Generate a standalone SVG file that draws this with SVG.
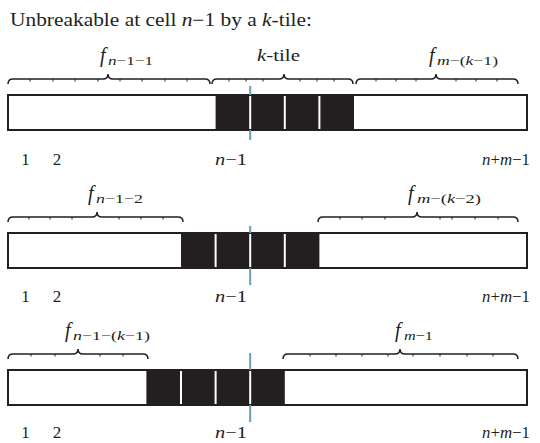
<svg xmlns="http://www.w3.org/2000/svg" width="540" height="443" viewBox="0 0 540 443" font-family="'Liberation Serif', 'DejaVu Serif', serif">
<style>
text{font-family:'Liberation Serif','DejaVu Serif',serif;fill:#231f20}
.t{font-size:18px}
.lab{font-size:17px}
.f{font-size:20px;font-style:italic}
.sub{font-size:13.5px}
.i{font-style:italic}
.bar{fill:#fff;stroke:#231f20;stroke-width:2}
.blk{fill:#231f20}
.div{stroke:#fff;stroke-width:2}
.blue{stroke:#6a9cb3;stroke-width:2}
.brace{fill:none;stroke:#231f20;stroke-width:1.5}
.tick{stroke:#231f20;stroke-width:1}
</style>
<rect width="540" height="443" fill="#fff"/>
<text class="t" x="10" y="26" textLength="302" lengthAdjust="spacingAndGlyphs">Unbreakable at cell <tspan class="i">n</tspan>−1 by a <tspan class="i">k</tspan>-tile:</text>

<g id="row1">
  <rect class="bar" x="8" y="95" width="519" height="35"/>
  <rect class="blk" x="215.6" y="94" width="138.4" height="37"/>
  <line class="div" x1="284.8" y1="96" x2="284.8" y2="129"/>
  <line class="div" x1="319.4" y1="96" x2="319.4" y2="129"/>
  <line class="div" x1="250.2" y1="96" x2="250.2" y2="129"/>
  <line class="blue" x1="250.2" y1="86" x2="250.2" y2="95"/>
  <line class="blue" x1="250.2" y1="130" x2="250.2" y2="140"/>
</g>
<g id="row2">
  <rect class="bar" x="8" y="233" width="519" height="35"/>
  <rect class="blk" x="181" y="232" width="138.4" height="37"/>
  <line class="div" x1="215.6" y1="234" x2="215.6" y2="267"/>
  <line class="div" x1="284.8" y1="234" x2="284.8" y2="267"/>
  <line class="div" x1="250.2" y1="234" x2="250.2" y2="267"/>
  <line class="blue" x1="250.2" y1="226" x2="250.2" y2="233"/>
  <line class="blue" x1="250.2" y1="268" x2="250.2" y2="285"/>
</g>
<g id="row3">
  <rect class="bar" x="8" y="370" width="519" height="35"/>
  <rect class="blk" x="146.4" y="369" width="138.4" height="37"/>
  <line class="div" x1="181" y1="371" x2="181" y2="404"/>
  <line class="div" x1="215.6" y1="371" x2="215.6" y2="404"/>
  <line class="div" x1="250.2" y1="371" x2="250.2" y2="404"/>
  <line class="blue" x1="250.2" y1="353" x2="250.2" y2="370"/>
  <line class="blue" x1="250.2" y1="405" x2="250.2" y2="422"/>
</g>

<g id="braces">
  <path class="brace" d="M8 84 Q8 79 13 79 H103 Q108 79 108 74 Q108 79 113 79 H205 Q210 79 210 84"/>
  <path class="brace" d="M212 84 Q212 79 217 79 H279 Q284 79 284 74 Q284 79 289 79 H348 Q353 79 353 84"/>
  <path class="brace" d="M356 84 Q356 79 361 79 H431 Q436 79 436 74 Q436 79 441 79 H513 Q518 79 518 84"/>
  <path class="brace" d="M8 222 Q8 217 13 217 H92 Q97 217 97 212 Q97 217 102 217 H178 Q183 217 183 222"/>
  <path class="brace" d="M318 222 Q318 217 323 217 H412 Q417 217 417 212 Q417 217 422 217 H513 Q518 217 518 222"/>
  <path class="brace" d="M8 359 Q8 354 13 354 H73 Q78 354 78 349 Q78 354 83 354 H143 Q148 354 148 359"/>
  <path class="brace" d="M283 359 Q283 354 288 354 H395 Q400 354 400 349 Q400 354 405 354 H513 Q518 354 518 359"/>
  <path class="tick" d="M30 79v2.5M53 79v2.5M75 79v2.5M98 79v2.5M120 79v2.5M142 79v2.5M165 79v2.5M187 79v2.5
    M229 79v2.5M246 79v2.5M263 79v2.5M300 79v2.5M317 79v2.5M334 79v2.5
    M376 79v2.5M396 79v2.5M416 79v2.5M456 79v2.5M476 79v2.5M497 79v2.5
    M29 217v2.5M50 217v2.5M72 217v2.5M119 217v2.5M141 217v2.5M163 217v2.5
    M340 217v2.5M362 217v2.5M385 217v2.5M440 217v2.5M452 217v2.5M475 217v2.5M498 217v2.5
    M31 354v2.5M55 354v2.5M100 354v2.5M123 354v2.5
    M310 354v2.5M336 354v2.5M362 354v2.5M388 354v2.5M413 354v2.5M440 354v2.5M467 354v2.5M493 354v2.5"/>
</g>

<g id="labels">
  <text class="f" x="100" y="62">f</text>
  <text class="sub" x="108" y="65" textLength="45" lengthAdjust="spacingAndGlyphs"><tspan class="i">n</tspan>−1−1</text>
  <text class="lab" x="257" y="61" textLength="43" lengthAdjust="spacingAndGlyphs"><tspan class="i">k</tspan>-tile</text>
  <text class="f" x="429" y="62">f</text>
  <text class="sub" x="437" y="65" textLength="61" lengthAdjust="spacingAndGlyphs"><tspan class="i">m</tspan>−(<tspan class="i">k</tspan>−1)</text>

  <text class="f" x="88" y="200">f</text>
  <text class="sub" x="96" y="203" textLength="47" lengthAdjust="spacingAndGlyphs"><tspan class="i">n</tspan>−1−2</text>
  <text class="f" x="408" y="200">f</text>
  <text class="sub" x="417" y="203" textLength="64" lengthAdjust="spacingAndGlyphs"><tspan class="i">m</tspan>−(<tspan class="i">k</tspan>−2)</text>

  <text class="f" x="65" y="337">f</text>
  <text class="sub" x="73" y="340" textLength="77" lengthAdjust="spacingAndGlyphs"><tspan class="i">n</tspan>−1−(<tspan class="i">k</tspan>−1)</text>
  <text class="f" x="395" y="337">f</text>
  <text class="sub" x="404" y="340" textLength="29" lengthAdjust="spacingAndGlyphs"><tspan class="i">m</tspan>−1</text>

  <text class="lab" x="25.5" y="165" text-anchor="middle">1</text>
  <text class="lab" x="57" y="165" text-anchor="middle">2</text>
  <text class="lab" x="215" y="165" textLength="32" lengthAdjust="spacingAndGlyphs"><tspan class="i">n</tspan>−1</text>
  <text class="lab" x="482" y="165" textLength="48" lengthAdjust="spacingAndGlyphs"><tspan class="i">n</tspan>+<tspan class="i">m</tspan>−1</text>

  <text class="lab" x="25.5" y="302" text-anchor="middle">1</text>
  <text class="lab" x="57" y="302" text-anchor="middle">2</text>
  <text class="lab" x="215" y="302" textLength="32" lengthAdjust="spacingAndGlyphs"><tspan class="i">n</tspan>−1</text>
  <text class="lab" x="482" y="302" textLength="48" lengthAdjust="spacingAndGlyphs"><tspan class="i">n</tspan>+<tspan class="i">m</tspan>−1</text>

  <text class="lab" x="25.5" y="438" text-anchor="middle">1</text>
  <text class="lab" x="57" y="438" text-anchor="middle">2</text>
  <text class="lab" x="215" y="438" textLength="32" lengthAdjust="spacingAndGlyphs"><tspan class="i">n</tspan>−1</text>
  <text class="lab" x="482" y="438" textLength="48" lengthAdjust="spacingAndGlyphs"><tspan class="i">n</tspan>+<tspan class="i">m</tspan>−1</text>
</g>
</svg>
